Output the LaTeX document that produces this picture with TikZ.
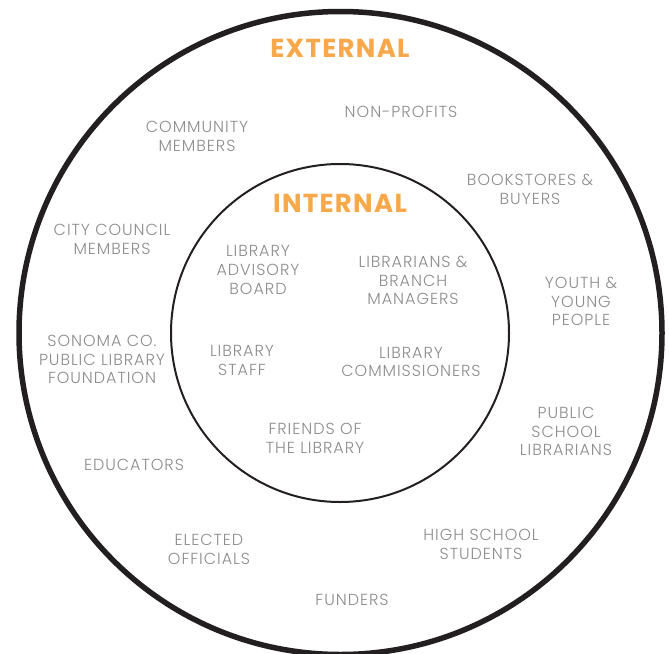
\documentclass[tikz,border=0pt]{standalone}
\usepackage{fontspec}
\setmainfont{Poppins}
\newfontfamily\lightfont{Poppins Light}[LetterSpace=6]
\newfontfamily\headfont{Poppins}[LetterSpace=5]
\definecolor{lbl}{HTML}{8C8C8C}
\definecolor{head}{HTML}{F7A84A}
\definecolor{ring}{HTML}{231F20}
\tikzset{
  lab/.style={text=lbl, align=center, inner sep=0pt, yshift=-1.5pt, font=\lightfont\fontsize{16}{18.8}\selectfont},
  ttl/.style={text=head, inner sep=0pt, font=\headfont\bfseries\fontsize{26}{28}\selectfont},
  outerring/.style={draw=ring, line width=5.5pt},
  innerring/.style={draw=ring, line width=2pt}
}
\begin{document}
\begin{tikzpicture}[x=1pt,y=-1pt]
\useasboundingbox (0,0) rectangle (669,653);
\begin{scope}
\clip (0,0) rectangle (669,653);
\draw[outerring] (340.5,333) circle[radius=321.5];
\end{scope}
\draw[innerring] (340,333) circle[radius=169];
\node[ttl] (ext) at (340,48) {EXTERNAL};
\node[ttl] (int) at (340,203) {INTERNAL};
% external
\node[lab] (np) at (401,110) {NON-PROFITS};
\node[lab] (cm) at (197,134.5) {COMMUNITY\\MEMBERS};
\node[lab] (bk) at (530,188) {BOOKSTORES \&\\BUYERS};
\node[lab] (cc) at (112,238) {CITY COUNCIL\\MEMBERS};
\node[lab] (yy) at (581,300) {YOUTH \&\\YOUNG\\PEOPLE};
\node[lab] (so) at (102,358) {SONOMA CO.\\PUBLIC LIBRARY\\FOUNDATION};
\node[lab] (ps) at (566,430) {PUBLIC\\SCHOOL\\LIBRARIANS};
\node[lab] (ed) at (134,463) {EDUCATORS};
\node[lab] (eo) at (209,548) {ELECTED\\OFFICIALS};
\node[lab] (hs) at (481,543) {HIGH SCHOOL\\STUDENTS};
\node[lab] (fu) at (352,598) {FUNDERS};
% internal
\node[lab] (ab) at (258,268.5) {LIBRARY\\ADVISORY\\BOARD};
\node[lab] (lb) at (413,279) {LIBRARIANS \&\\BRANCH\\MANAGERS};
\node[lab] (st) at (242,359) {LIBRARY\\STAFF};
\node[lab] (co) at (411,360.5) {LIBRARY\\COMMISSIONERS};
\node[lab] (fr) at (315,437) {FRIENDS OF\\THE LIBRARY};
\end{tikzpicture}
\end{document}
